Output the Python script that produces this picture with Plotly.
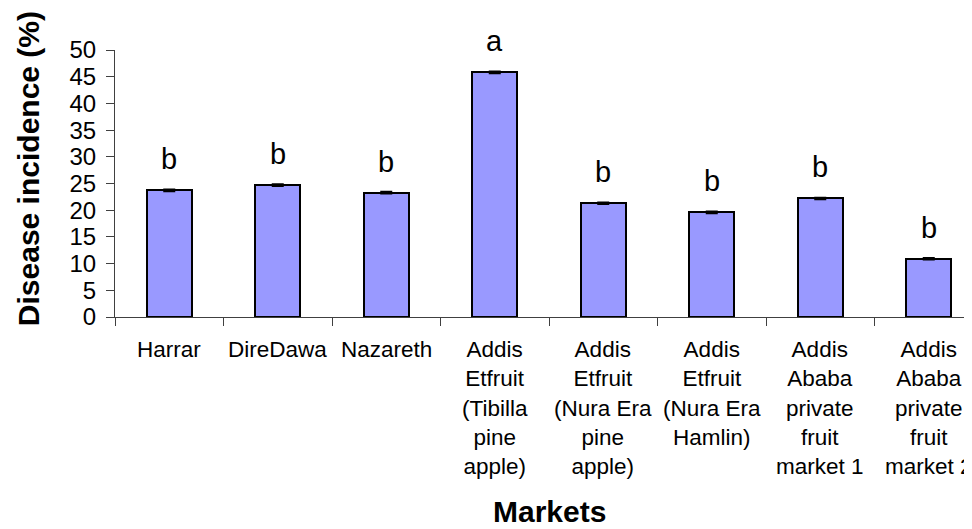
import plotly.graph_objects as go

# data
markets = ["Harrar", "DireDawa", "Nazareth",
           "Addis<br>Etfruit<br>(Tibilla<br>pine<br>apple)",
           "Addis<br>Etfruit<br>(Nura Era<br>pine<br>apple)",
           "Addis<br>Etfruit<br>(Nura Era<br>Hamlin)",
           "Addis<br>Ababa<br>private<br>fruit<br>market 1",
           "Addis<br>Ababa<br>private<br>fruit<br>market 2"]
incidence = [23.7, 24.7, 23.3, 45.8, 21.3, 19.6, 22.2, 10.9]
err = [0.2, 0.2, 0.2, 0.2, 0.2, 0.2, 0.2, 0.2]
letters = ["b", "b", "b", "a", "b", "b", "b", "b"]

FONT = "Liberation Sans, Arial, sans-serif"
xpos = list(range(len(markets)))

# page body has an 8px margin, so the figure is 8px smaller than the window
W, H = 964, 521
L, T, B = 107, 42, 212.3
PW, PH = W - L, H - B - T  # plot area size in px

fig = go.Figure(go.Bar(
    x=xpos, y=incidence, width=0.415,
    marker=dict(color="#9999FF", line=dict(color="black", width=2)),
    error_y=dict(type="data", array=err, color="black", thickness=1.5, width=6),
))

# significance letters above bars
for x, v, s in zip(xpos, incidence, letters):
    fig.add_annotation(x=x, y=v, text=s, showarrow=False, yshift=31,
                       yanchor="middle", font=dict(size=29, family=FONT, color="black"))

# category labels (centered under bars, multi-line)
for x, lab in zip(xpos, markets):
    fig.add_annotation(x=x, y=0, xref="x", yref="y", text=lab, showarrow=False,
                       yanchor="top", yshift=-18, align="center",
                       font=dict(size=22.5, family=FONT, color="black"))

# axis titles placed in pixel terms relative to the plot area
fig.add_annotation(x=(20 - L) / PW, y=(H - B - 161) / PH, xref="paper", yref="paper",
                   text="<b>Disease incidence (%)</b>", showarrow=False, textangle=-90,
                   xanchor="center", yanchor="middle",
                   font=dict(size=30, family=FONT, color="black"))
fig.add_annotation(x=(541 - L) / PW, y=-(H - 1 - (H - B)) / PH, xref="paper", yref="paper",
                   text="<b>Markets</b>", showarrow=False, yanchor="bottom", borderpad=0,
                   font=dict(size=30, family=FONT, color="black"))

fig.update_layout(
    width=W, height=H,
    margin=dict(l=L, r=0, t=T, b=B, pad=0),
    plot_bgcolor="white", paper_bgcolor="white",
    showlegend=False, bargap=0,
    xaxis=dict(range=[-0.5, -0.5 + PW / 108.5], tickvals=[i - 0.5 for i in range(9)],
               ticktext=[""] * 9, ticks="outside", ticklen=8, tickcolor="#404040",
               showline=True, linecolor="#404040", linewidth=1, showgrid=False, zeroline=False),
    yaxis=dict(range=[0, 50], dtick=5, ticks="outside", ticklen=8, tickcolor="#404040",
               ticklabelstandoff=5,
               showline=True, linecolor="#404040", linewidth=1, showgrid=False, zeroline=False,
               tickfont=dict(size=24, family=FONT, color="black")),
)

fig.write_html("out.html")
